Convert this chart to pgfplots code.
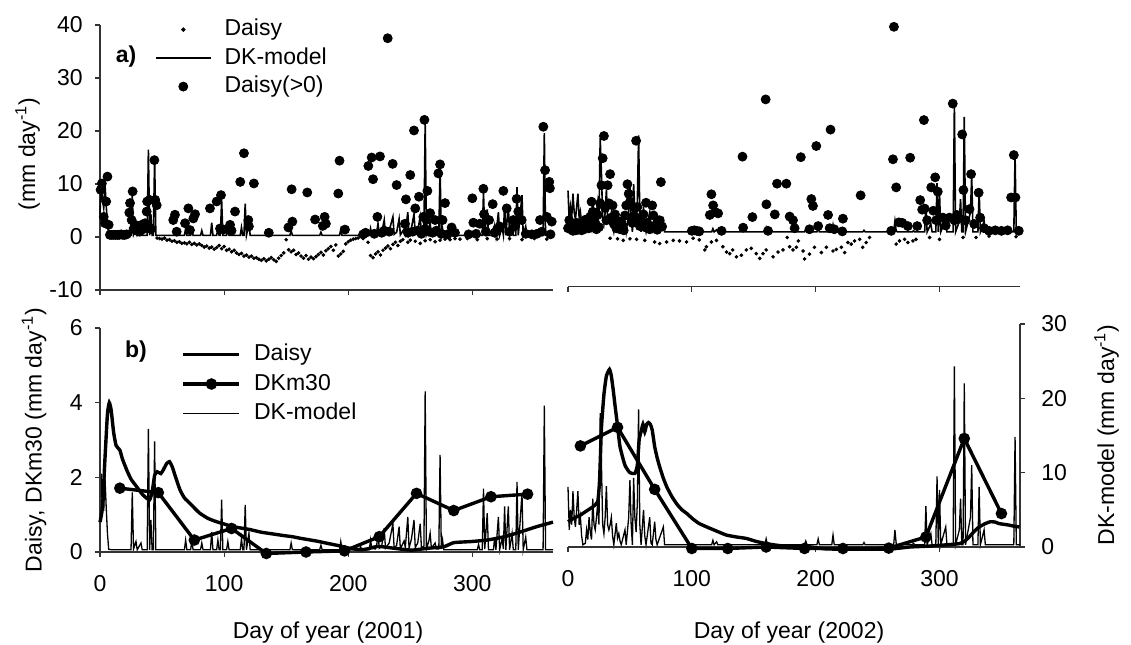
\documentclass[border=0pt]{standalone}
\usepackage{fontspec}
\setmainfont{Liberation Sans}
\usepackage{pgfplots}
\usepackage{pgfplotstable}
\pgfplotsset{compat=1.18}

% DK-model daily values 2001 (mm/day)
\pgfplotstableread[row sep=\\]{
d v\\
0 4.3\\ 1 10.5\\ 2 7\\ 3 5.5\\ 4 10\\ 5 6\\ 6 2.5\\ 7 0.35\\ 10 0.3\\ 25 0.3\\ 26 8\\ 27 0.4\\ 29 1.4\\ 30 0.3\\ 33 1.2\\ 34 0.3\\ 38 0.3\\ 39 16.5\\ 40 0.3\\ 41 4.3\\ 42 0.3\\ 43 0.3\\ 44 14.8\\ 45 0.3\\
68 0.3\\ 69 1.6\\ 70 0.3\\ 73 0.3\\ 74 1.4\\ 75 0.3\\ 81 0.3\\ 82 1.2\\ 83 0.3\\ 89 0.3\\ 90 2.7\\ 91 0.3\\ 94 0.3\\ 95 1.6\\ 96 0.3\\ 97 0.3\\ 98 7\\ 99 0.3\\ 102 0.3\\ 103 1.4\\ 104 0.3\\ 113 0.3\\ 114 1.8\\ 115 0.3\\ 116 0.3\\ 117 6.3\\ 118 0.3\\ 120 2.5\\ 121 0.3\\
153 0.3\\ 154 1.2\\ 155 0.3\\ 177 0.3\\ 178 0.9\\ 179 0.3\\ 193 0.3\\ 194 1.4\\ 195 0.3\\ 209 0.3\\ 210 0.7\\ 211 0.3\\ 217 0.3\\ 218 1.6\\ 219 0.5\\ 222 0.4\\ 223 1.0\\ 224 2.5\\ 225 0.5\\ 227 0.8\\ 229 3.2\\ 230 0.5\\ 233 1.2\\ 236 3.8\\ 237 0.5\\ 239 0.9\\ 241 3.4\\ 242 0.4\\ 245 1.5\\ 246 0.6\\ 248 4.7\\ 249 0.5\\ 251 1.8\\ 253 4.3\\ 254 0.6\\ 256 1.2\\ 258 3.8\\ 259 0.5\\ 261 0.8\\ 262 21.5\\ 263 0.4\\ 265 1.5\\ 266 2.5\\ 267 0.5\\ 270 1.2\\ 271 0.4\\ 273 0.4\\ 274 13\\ 275 0.4\\ 276 1.6\\ 277 0.3\\
304 0.3\\ 305 1.0\\ 306 0.3\\ 308 0.3\\ 309 8.5\\ 310 0.4\\ 312 5.2\\ 313 0.3\\ 317 0.3\\ 318 2.0\\ 319 0.3\\ 321 4.7\\ 322 0.3\\ 324 1.8\\ 325 0.4\\ 326 6.1\\ 327 0.3\\ 329 6.1\\ 330 0.3\\ 332 2.5\\ 333 0.3\\ 335 0.3\\ 336 9.4\\ 337 0.3\\ 340 7.9\\ 341 0.3\\ 343 2.0\\ 344 0.3\\ 357 0.3\\ 358 19.6\\ 359 0.3\\ 365 0.3\\
}\dkA

% DK-model daily values 2002 (mm/day)
\pgfplotstableread[row sep=\\]{
d v\\
0 8.1\\ 1 2.3\\ 2 5\\ 3 3\\ 4 7.5\\ 5 4\\ 6 2.7\\ 7 5\\ 8 7.5\\ 9 3\\ 10 4.1\\ 11 1.5\\ 12 0.3\\ 14 0.5\\ 15 2.3\\ 16 1\\ 17 4\\ 18 2\\ 19 1\\ 20 6.5\\ 21 3\\ 22 2.3\\ 23 4\\ 24 5.9\\ 25 3\\ 26 18\\ 27 11.3\\ 28 3\\ 29 1.8\\ 30 4\\ 31 8.2\\ 32 3\\ 33 2.3\\ 34 3\\ 35 4\\ 36 1.5\\ 37 0.3\\ 39 3.2\\ 40 1.2\\ 41 1.8\\ 42 0.8\\ 43 0.3\\ 46 2.3\\ 47 0.3\\ 49 4\\ 50 9\\ 51 3\\ 52 0.3\\ 53 9.3\\ 54 4\\ 55 2\\ 56 6\\ 57 18.5\\ 58 3\\ 59 0.3\\ 61 5\\ 62 1.5\\ 63 0.3\\ 66 4\\ 67 0.5\\ 68 0.3\\ 70 3.4\\ 71 1\\ 72 0.3\\ 77 2.7\\ 78 0.3\\
116 0.3\\ 117 0.9\\ 118 0.3\\ 120 0.7\\ 121 0.3\\ 159 0.3\\ 160 1.1\\ 161 0.3\\ 191 0.3\\ 192 0.8\\ 193 0.3\\ 201 0.3\\ 202 1.1\\ 203 0.3\\ 213 0.3\\ 214 1.6\\ 215 0.3\\ 238 0.3\\ 239 0.6\\ 240 0.3\\ 263 0.3\\ 264 2.3\\ 265 0.5\\ 266 0.3\\ 278 0.3\\ 279 0.5\\ 280 0.3\\ 288 0.3\\ 289 5.5\\ 290 0.3\\ 293 1.8\\ 294 0.3\\ 297 0.3\\ 298 9.5\\ 299 0.3\\ 300 7.7\\ 301 0.3\\ 305 2.7\\ 306 0.3\\ 311 0.3\\ 312 24.3\\ 313 0.3\\ 316 2.3\\ 317 6.5\\ 318 0.3\\ 319 0.3\\ 320 22\\ 321 0.3\\ 325 4\\ 326 11\\ 327 0.3\\ 331 0.3\\ 332 8.1\\ 333 0.3\\ 336 2.3\\ 337 0.3\\ 360 0.3\\ 361 14.8\\ 362 0.3\\ 365 0.3\\
}\dkB

% Daisy daily values 2001, positive days (Daisy(>0))
\pgfplotstableread[row sep=\\]{
d v\\
0.5 8.9\\ 1.5 10.1\\ 3 3.8\\ 4 2.6\\ 5 6.7\\ 6 11.4\\ 7 2.3\\ 8 0.4\\ 9.5 0.4\\ 11 0.4\\ 12.5 0.4\\ 14 0.4\\ 15.5 0.4\\ 17 0.5\\ 18.5 0.4\\ 20 0.4\\ 21.5 0.5\\ 23.6 4.6\\ 24.2 6.4\\ 25.5 3.2\\ 26.3 8.6\\ 27 1.5\\ 28.2 2.3\\ 29.5 1.2\\ 30.9 1.9\\ 32 1.0\\ 33.6 2.3\\ 35 1.5\\ 36.3 2.6\\ 37.6 4.8\\ 38 6.7\\ 40 7.0\\ 41 1.5\\ 43.8 14.5\\ 44.5 7.0\\ 45.7 6.0\\
59 3.2\\ 60.4 4.2\\ 61.8 1.0\\ 68.5 2.6\\ 71.2 5.4\\ 72.5 1.3\\ 75.2 3.5\\ 76.6 4.3\\ 88.6 5.4\\ 94 6.7\\ 96.7 1.6\\ 97.5 7.9\\ 99.4 1.4\\ 104.8 2.3\\ 106 1.2\\ 108.8 4.8\\ 113 10.4\\ 116 15.8\\ 119.5 3.2\\ 120 2.0\\ 124 10.1\\ 136 0.8\\ 151.8 1.8\\ 154.4 9.0\\ 155 2.9\\ 167 8.4\\ 173.3 3.3\\ 179.5 2.1\\ 181 3.8\\ 182 2.5\\ 192 8.2\\ 193 14.4\\ 197.4 1.4\\
212 0.5\\ 214 0.8\\ 216.2 13.4\\ 218.9 15.0\\ 220 10.9\\ 221 0.6\\ 223.5 3.8\\ 225.6 15.2\\ 227 0.8\\ 229 1.2\\ 231.8 37.5\\ 233 1.0\\ 235.8 13.8\\ 239 9.8\\ 245.7 2.5\\ 246.5 7.1\\ 248 0.8\\ 250 11.7\\ 252 1.0\\ 253 20.1\\ 254 5.4\\ 256 1.2\\ 257 7.6\\ 259 0.6\\ 260.5 3.8\\ 261.4 22.1\\ 262 1.5\\ 263 3.2\\ 263.8 8.7\\ 265 1.0\\ 266 4.5\\ 268 0.8\\ 270 3.2\\ 271 1.2\\ 272.6 12.0\\ 274 13.7\\ 275 0.6\\ 276 3.2\\ 278 6.4\\ 280 0.5\\ 283.3 1.8\\ 286 0.8\\ 297 0.5\\ 300 7.3\\ 300.8 2.7\\ 303 0.6\\ 306 2.5\\ 308.9 9.1\\ 309.4 4.3\\ 311 1.0\\ 313.5 3.2\\ 316.4 6.2\\ 318 0.8\\ 320 1.5\\ 322 2.0\\ 325 8.7\\ 327.7 5.4\\ 330 1.0\\ 333 3.2\\ 334 2.0\\ 335.7 7.2\\ 337 4.8\\ 339.8 3.2\\ 343 0.6\\ 348 0.5\\ 352 0.6\\ 354.5 3.2\\ 356 1.0\\ 357.2 20.8\\ 358.6 12.6\\ 360 3.8\\ 362 10.4\\ 362.5 9.2\\ 363 0.5\\ 364 2.9\\
}\dpA

% Daisy daily values 2001, all days (small dots; negative part visible)
\pgfplotstableread[row sep=\\]{
d v\\
46 -0.2\\ 48 -0.3\\ 50 -0.4\\ 52 -0.2\\ 54 -0.6\\ 56 -0.5\\ 58 -0.8\\ 60 -0.7\\ 62 -1.0\\ 64 -0.9\\ 66 -1.2\\ 68 -1.1\\ 70 -1.3\\ 72 -1.0\\ 74 -1.4\\ 76 -1.2\\ 78 -1.5\\ 80 -1.3\\ 82 -1.6\\ 84 -1.9\\ 86 -1.7\\ 88 -2.1\\ 90 -1.9\\ 92 -2.3\\ 94 -2.0\\ 96 -1.6\\ 98 -2.2\\ 100 -1.8\\ 102 -2.5\\ 104 -2.3\\ 106 -2.8\\ 108 -2.5\\ 110 -3.0\\ 112 -3.3\\ 114 -3.1\\ 116 -3.6\\ 118 -3.4\\ 120 -3.8\\ 122 -3.6\\ 124 -4.0\\ 126 -3.9\\ 128 -4.2\\ 130 -4.4\\ 132 -4.1\\ 134 -4.5\\ 136 -4.2\\ 138 -3.9\\ 140 -4.3\\ 142 -4.6\\ 144 -4.0\\ 146 -3.5\\ 148 -3.0\\ 150 -0.5\\ 152 -2.4\\ 154 -2.8\\ 156 -2.5\\ 158 -3.3\\ 160 -3.0\\ 162 -3.6\\ 164 -4.0\\ 166 -3.5\\ 168 -4.2\\ 170 -3.8\\ 172 -4.1\\ 174 -3.7\\ 176 -3.3\\ 178 -2.9\\ 180 -3.4\\ 182 -2.6\\ 184 -2.2\\ 186 -1.8\\ 188 -2.5\\ 190 -1.5\\ 192 -3.6\\ 194 -3.2\\ 196 -2.7\\ 198 -1.3\\ 200 -0.9\\ 202 -0.6\\ 204 -0.4\\ 206 -0.3\\ 208 -0.2\\ 212 -0.3\\ 216 -1.0\\ 218 -3.5\\ 220 -3.9\\ 222 -3.2\\ 224 -2.8\\ 226 -3.4\\ 228 -2.5\\ 230 -2.1\\ 232 -1.7\\ 234 -2.2\\ 236 -1.4\\ 238 -1.0\\ 240 -1.6\\ 242 -0.8\\ 244 -0.5\\ 248 -1.0\\ 250 -0.6\\ 254 -0.8\\ 258 -1.2\\ 262 -0.7\\ 266 -0.5\\ 270 -0.9\\ 274 -0.6\\ 278 -0.4\\ 282 -0.5\\ 286 -0.3\\ 290 -0.4\\ 296 -0.3\\ 304 -0.5\\ 312 -0.3\\ 320 -0.4\\ 330 -0.3\\ 340 -0.5\\ 350 -0.3\\ 360 -0.4\\
}\dsA

% Daisy daily values 2002, positive days (Daisy(>0))
\pgfplotstableread[row sep=\\]{
d v\\
0 1.0\\ 1 2.5\\ 2 0.8\\ 3 1.5\\ 4 0.5\\ 5 1.2\\ 6 0.6\\ 7 2.0\\ 8 0.7\\ 9 1.0\\ 10 1.8\\ 11 0.6\\ 12 1.2\\ 13 0.8\\ 14 2.6\\ 15 1.5\\ 16 2.2\\ 17 1.0\\ 18 3.2\\ 19 6.0\\ 20 4.1\\ 21 1.4\\ 22 2.0\\ 23 0.8\\ 24 3.5\\ 25 1.2\\ 26 5.7\\ 27 9.1\\ 28 14.2\\ 29 18.4\\ 30 4.8\\ 31 2.5\\ 32 9.1\\ 33 5.7\\ 34 11.2\\ 35 3.0\\ 36 5.3\\ 37 1.8\\ 38 3.6\\ 39 1.0\\ 40 2.4\\ 41 1.5\\ 42 0.8\\ 43 2.0\\ 44 1.2\\ 45 0.6\\ 46 3.4\\ 47 5.3\\ 48 9.3\\ 49 7.5\\ 50 6.0\\ 51 3.0\\ 52 2.0\\ 53 5.0\\ 54 3.2\\ 55 17.5\\ 56 5.0\\ 57 2.5\\ 58 1.4\\ 59 2.5\\ 60 1.6\\ 61 3.6\\ 62 1.2\\ 63 5.8\\ 64 2.0\\ 66 0.8\\ 68 5.3\\ 69 3.4\\ 70 1.5\\ 72 0.7\\ 74 2.5\\ 75 9.7\\ 76 1.3\\
100 0.5\\ 102 0.6\\ 104 0.5\\ 106 0.4\\ 114.5 3.5\\ 115.8 7.4\\ 117.2 5.3\\ 119 4.0\\ 121.2 3.8\\ 124 0.5\\ 140.9 14.5\\ 141.4 1.1\\ 148.9 3.1\\ 159.6 25.3\\ 160.2 5.5\\ 161.5 0.5\\ 167 3.6\\ 168.8 9.4\\ 176.3 9.4\\ 179 3.2\\ 181.7 2.5\\ 183 1.0\\ 188 14.4\\ 195 0.8\\ 196.5 6.5\\ 197.8 5.2\\ 200.5 16.5\\ 202 1.4\\ 210 3.5\\ 211.3 1.0\\ 212 19.6\\ 215 0.8\\ 221.5 0.4\\ 222 2.8\\ 236.3 7.2\\
261 0.5\\ 262.4 14.0\\ 263.2 39.0\\ 265 8.7\\ 267.2 2.1\\ 270 2.0\\ 274.4 1.4\\ 276.3 14.3\\ 282 1.4\\ 284.4 6.3\\ 286 4.5\\ 287.4 21.4\\ 288 4.7\\ 290 2.5\\ 293.3 8.7\\ 295 4.3\\ 296.5 10.6\\ 297.3 2.5\\ 298.6 7.9\\ 302.7 3.0\\ 305 1.5\\ 308 3.0\\ 310.7 24.5\\ 312 2.5\\ 314 3.5\\ 316 2.8\\ 318.3 18.7\\ 319.3 8.2\\ 321 2.5\\ 324.2 4.6\\ 325.5 11.2\\ 328 1.8\\ 331.6 7.7\\ 332.8 3.0\\ 336 1.0\\ 340 0.5\\ 345 0.6\\ 350 0.5\\ 355 0.6\\ 357.8 6.8\\ 360 14.8\\ 361.3 6.8\\ 364 0.5\\
}\dpB

% Daisy daily values 2002, all days (small dots; negative part visible)
\pgfplotstableread[row sep=\\]{
d v\\
34 -0.9\\ 40 -1.0\\ 44.6 -1.3\\ 50 -1.0\\ 55.4 -1.1\\ 62 -1.3\\ 70 -1.6\\ 74 -1.9\\ 79.6 -1.6\\ 85 -1.3\\ 90 -1.4\\ 95.7 -1.6\\ 101 -0.9\\ 106 -1.2\\ 110.5 -3.1\\ 111.8 -2.5\\ 115.8 -1.6\\ 119.9 -1.3\\ 125 -2.5\\ 128 -3.5\\ 130.6 -3.8\\ 133 -3.1\\ 136 -4.4\\ 140 -4.1\\ 144 -3.1\\ 148 -2.8\\ 152 -3.8\\ 154.8 -4.7\\ 157.5 -3.8\\ 160 -3.1\\ 165.6 -4.4\\ 169.6 -3.5\\ 173.6 -3.1\\ 177 -0.75\\ 179 -2.5\\ 181.7 -3.1\\ 184.4 -2.6\\ 186 -1.4\\ 189.8 -3.3\\ 191 -4.8\\ 195 -3.9\\ 199 -2.6\\ 204.6 -3.6\\ 208.6 -2.6\\ 214 -3.3\\ 216.7 -3.0\\ 220.7 -2.6\\ 223.4 -3.6\\ 226 -1.7\\ 228.7 -2.0\\ 231.4 -1.4\\ 235.5 -1.1\\ 238 -2.6\\ 240.8 -1.7\\ 243.5 -0.75\\ 265 -2.0\\ 267.7 -1.4\\ 271.8 -1.1\\ 274.4 -1.7\\ 278.5 -1.4\\ 281 -1.1\\ 292 -0.75\\ 300 -1.1\\ 319 -0.75\\ 329.5 -0.75\\ 340 -0.5\\ 361.8 -0.6\\
}\dsB

% Daisy (bottom panel) 2001 and 2002
\pgfplotstableread[row sep=\\]{
d v\\
0 0.8\\ 2 1.2\\ 4 2.5\\ 6 3.7\\ 7.5 4.0\\ 9 3.8\\ 11 3.2\\ 13 2.85\\ 16 2.73\\ 18 2.5\\ 21.5 2.2\\ 25 1.95\\ 29.5 1.75\\ 34 1.55\\ 37.6 1.44\\ 40 1.4\\ 42 1.6\\ 44 2.05\\ 46 2.15\\ 49 2.1\\ 51 2.2\\ 53.7 2.37\\ 56 2.42\\ 58 2.3\\ 61 2.0\\ 64.5 1.66\\ 68 1.45\\ 72.5 1.3\\ 80 1.05\\ 87 0.9\\ 94 0.81\\ 100 0.75\\ 107 0.68\\ 114 0.64\\ 121 0.6\\ 130 0.53\\ 140 0.48\\ 148 0.44\\ 155 0.41\\ 161 0.37\\ 168 0.33\\ 175 0.29\\ 182 0.24\\ 188 0.2\\ 195 0.15\\ 201 0.1\\ 205 0.08\\ 210 0.06\\ 215 0.08\\ 224 0.15\\ 237 0.1\\ 251 0.05\\ 264 0.1\\ 277 0.14\\ 285 0.25\\ 299 0.28\\ 312 0.32\\ 326 0.41\\ 339 0.54\\ 352 0.68\\ 365 0.8\\
}\daA
\pgfplotstableread[row sep=\\]{
d v\\
0 0.68\\ 5 0.78\\ 10 0.86\\ 15 0.97\\ 20 1.08\\ 24 1.22\\ 25.5 1.8\\ 27 3.2\\ 29 4.1\\ 31 4.6\\ 33.5 4.78\\ 35 4.6\\ 36.5 4.23\\ 38 3.8\\ 39.5 3.4\\ 42 2.7\\ 46 2.2\\ 50 2.0\\ 54 1.98\\ 56 2.2\\ 57.5 2.9\\ 59 3.1\\ 60.5 3.3\\ 62 3.1\\ 63.5 3.3\\ 65 3.35\\ 66.5 3.3\\ 68 3.15\\ 70 2.7\\ 72 2.4\\ 74 2.16\\ 77 1.85\\ 80 1.6\\ 84 1.35\\ 88 1.15\\ 92 1.0\\ 96 0.9\\ 101 0.75\\ 106 0.63\\ 112 0.54\\ 117 0.47\\ 122 0.4\\ 128 0.32\\ 136 0.27\\ 144 0.23\\ 152 0.15\\ 160 0.09\\ 168 0.05\\ 176 0.02\\ 184 0.03\\ 192 0.02\\ 200 -0.02\\ 208 -0.05\\ 222 -0.06\\ 235 -0.06\\ 248 -0.06\\ 262 -0.05\\ 276 0\\ 289 0.02\\ 302 0.05\\ 310 0.07\\ 316 0.09\\ 320 0.15\\ 324 0.27\\ 328 0.42\\ 332 0.54\\ 337 0.63\\ 341 0.68\\ 345 0.67\\ 348 0.63\\ 352 0.61\\ 356 0.59\\ 360 0.56\\ 364.5 0.54\\
}\daB

% DKm30 (30-day means)
\pgfplotstableread[row sep=\\]{
d v\\
16 1.71\\ 47 1.59\\ 76 0.32\\ 106 0.63\\ 134 -0.04\\ 166 0.0\\ 197 0.03\\ 225 0.41\\ 255 1.57\\ 285 1.11\\ 315 1.48\\ 344.5 1.55\\
}\mA
\pgfplotstableread[row sep=\\]{
d v\\
10 2.72\\ 40 3.22\\ 70 1.55\\ 100 -0.04\\ 129 -0.04\\ 160 0.0\\ 191 -0.04\\ 222 -0.04\\ 259 -0.03\\ 289 0.27\\ 320 2.92\\ 350 0.9\\
}\mB

\pgfplotsset{
  panel/.style={scale only axis, xmin=0, xmax=365, clip=false, xtick={0,100,200,300},
    tick align=outside, major tick length=2.6pt,
    axis line style={-, line width=0.6pt, black!80},
    x axis line style={-}, y axis line style={-},
    every tick/.style={line width=0.6pt, black!80},
    ticklabel style={font=\fontsize{11.5}{13}\selectfont, text=black},
    xticklabel style={yshift=-5pt},
    yticklabel style={xshift=-2pt}},
  toprow/.style={width=226.5pt, height=132.5pt, ymin=-10, ymax=40,
    xticklabels={{},{},{},{}}},
  botrow/.style={width=226.5pt, height=112pt},
  smalldot/.style={only marks, mark=*, mark size=0.7pt, black},
  bigdot/.style={only marks, mark=*, mark size=2.25pt, black},
  dkline/.style={black, line width=0.8pt, sharp plot},
  dkthin/.style={black, line width=0.65pt, sharp plot},
  daisyline/.style={black, line width=1.7pt, smooth, tension=0.3},
  m30line/.style={black, line width=1.7pt, sharp plot, mark=*, mark size=2pt},
}

\begin{document}
\fontsize{11.5}{13}\selectfont
\begin{tikzpicture}
\useasboundingbox (0pt,0pt) rectangle (565.5pt,322pt);

% ---------- top left (2001) ----------
\begin{axis}[panel, toprow, at={(50pt,177pt)}, anchor=south west,
  axis x line*=bottom, axis y line*=left,
  ytick={-10,0,10,20,30,40}, yticklabels={-10,0,10,20,30,40},
  legend style={at={(0.1214,1.0238)}, anchor=north west, draw=none, fill=none,
    inner sep=0pt, outer sep=0pt, row sep=3.35pt, column sep=6.5pt,
    nodes={inner sep=0pt, text height=8.5pt, text depth=2.4pt},
    font=\fontsize{11.5}{13}\selectfont},
  legend cell align=left]
\addplot[smalldot, legend image code/.code={\path (0pt,0pt) (27.5pt,0pt); \fill[black] (13.75pt,0pt) circle (0.9pt);}] table[x=d,y=v]{\dsA};
\addlegendentry{Daisy}
\addplot[dkline, legend image code/.code={\draw[black, line width=0.8pt] (0pt,0pt) -- (27.5pt,0pt);}] table[x=d,y=v]{\dkA};
\addlegendentry{DK-model}
\addplot[bigdot, legend image code/.code={\path (0pt,0pt) (27.5pt,0pt); \fill[black] (13.75pt,0pt) circle (2.25pt);}] table[x=d,y=v]{\dpA};
\addlegendentry{Daisy(>0)}
\end{axis}

% ---------- top right (2002) ----------
\begin{axis}[panel, toprow, at={(284pt,178.75pt)}, anchor=south west, width=226pt,
  axis x line*=bottom, hide y axis]
\addplot[smalldot] table[x=d,y=v]{\dsB};
\addplot[dkline] table[x=d,y=v]{\dkB};
\addplot[bigdot] table[x=d,y=v]{\dpB};
\end{axis}

% ---------- bottom left (2001) ----------
\begin{axis}[panel, botrow, at={(50pt,46pt)}, anchor=south west, ymin=0, ymax=30, hide axis]
\addplot[dkthin] table[x=d,y=v]{\dkA};
\end{axis}
\begin{axis}[panel, botrow, at={(50pt,46pt)}, anchor=south west, ymin=0, ymax=6,
  axis x line*=bottom, axis y line*=left,
  ytick={0,2,4,6}, yticklabels={0,2,4,6}, xticklabels={0,100,200,300},
  legend style={at={(0.1804,0.9308)}, anchor=north west, draw=none, fill=none,
    inner sep=0pt, outer sep=0pt, row sep=3.9pt, column sep=6.5pt,
    nodes={inner sep=0pt, text height=8.5pt, text depth=2.4pt},
    font=\fontsize{11.5}{13}\selectfont},
  legend cell align=left]
\addplot[daisyline, legend image code/.code={\draw[black, line width=1.7pt] (0pt,0pt) -- (28pt,0pt);}] table[x=d,y=v]{\daA};
\addlegendentry{Daisy}
\addplot[m30line, legend image code/.code={\draw[black, line width=1.7pt] (0pt,0pt) -- (28pt,0pt); \fill[black] (14pt,0pt) circle (2pt);}] table[x=d,y=v]{\mA};
\addlegendentry{DKm30}
\addlegendimage{legend image code/.code={\draw[black, line width=0.65pt] (0pt,0pt) -- (28pt,0pt);}}
\addlegendentry{DK-model}
\end{axis}

% ---------- bottom right (2002) ----------
\begin{axis}[panel, botrow, at={(284pt,48.5pt)}, anchor=south west, width=226pt, height=111.5pt,
  ymin=0, ymax=30, axis y line*=right, hide x axis,
  ytick={0,10,20,30}, yticklabels={0,10,20,30},
  yticklabel style={anchor=west, xshift=6pt}]
\addplot[dkthin] table[x=d,y=v]{\dkB};
\end{axis}
\begin{axis}[panel, botrow, at={(284pt,48.5pt)}, anchor=south west, width=226pt, height=111.5pt,
  ymin=0, ymax=6, axis x line*=bottom, hide y axis, xticklabels={0,100,200,300}]
\addplot[daisyline] table[x=d,y=v]{\daB};
\addplot[m30line] table[x=d,y=v]{\mB};
\end{axis}

% ---------- labels ----------
\node[rotate=90] at (13.75pt,245pt) {(mm day\textsuperscript{-1})};
\node[rotate=90] at (17pt,102pt) {Daisy, DKm30 (mm day\textsuperscript{-1})};
\node[rotate=90] at (553.3pt,104.5pt) {DK-model (mm day\textsuperscript{-1})};
\node[anchor=base] at (164pt,2.65pt) {Day of year (2001)};
\node[anchor=base] at (394.5pt,2.65pt) {Day of year (2002)};
\node at (63pt,293.5pt) {\bfseries a)};
\node at (68pt,146pt) {\bfseries b)};
\end{tikzpicture}
\end{document}
